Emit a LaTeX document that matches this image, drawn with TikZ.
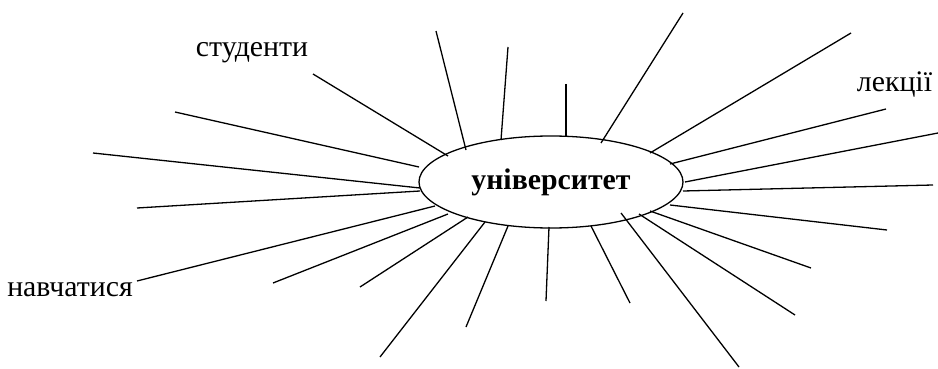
\documentclass[tikz,border=0pt]{standalone}
\usepackage{fontspec}
\setmainfont{Liberation Serif}
\usetikzlibrary{shapes.geometric}
\begin{document}
\begin{tikzpicture}[x=1pt,y=-1pt,
  ray/.style={line width=1.3pt},
  lbl/.style={font=\fontsize{29.8}{33}\selectfont, inner sep=0pt}]
\useasboundingbox (0,0) rectangle (938,369);
\node[ellipse, draw, line width=1.3pt, minimum width=264pt, minimum height=92pt, inner sep=0pt,
  font=\fontsize{29.8}{33}\selectfont\bfseries] (U) at (551,182) {університет};
\node[lbl, anchor=base] (s) at (252,57) {студенти};
\node[lbl, anchor=base] (l) at (894.5,92) {лекції};
\node[lbl, anchor=base] (n) at (70,296) {навчатися};
% ray endpoints: o = outer, i = inner
\foreach \k/\ox/\oy/\ix/\iy in {
  a/313/74/448/156, b/175/112/419/167, c/93/153/420/188, d/137/208/420/191,
  e/436/31/466/150, f/508/47/501/140, g/566/84/566/137, h/683/13/601/143,
  j/851/33/650/153, k/886/109/670/164, m/938/133/685/182, p/933/185/683/191,
  q/887/230/670/205, r/811/268/650/211, t/795/315/639/214, u/739/367/621/213,
  v/630/303/591/226, w/546/301/549/227, x/466/327/508/226, y/380/357/485/222,
  z/360/287/468/217, A/273/283/448/214, B/137/281/435/206} {
  \coordinate (o\k) at (\ox,\oy);
  \coordinate (i\k) at (\ix,\iy);
  \draw[ray] (o\k) -- (i\k);
}
\end{tikzpicture}
\end{document}
